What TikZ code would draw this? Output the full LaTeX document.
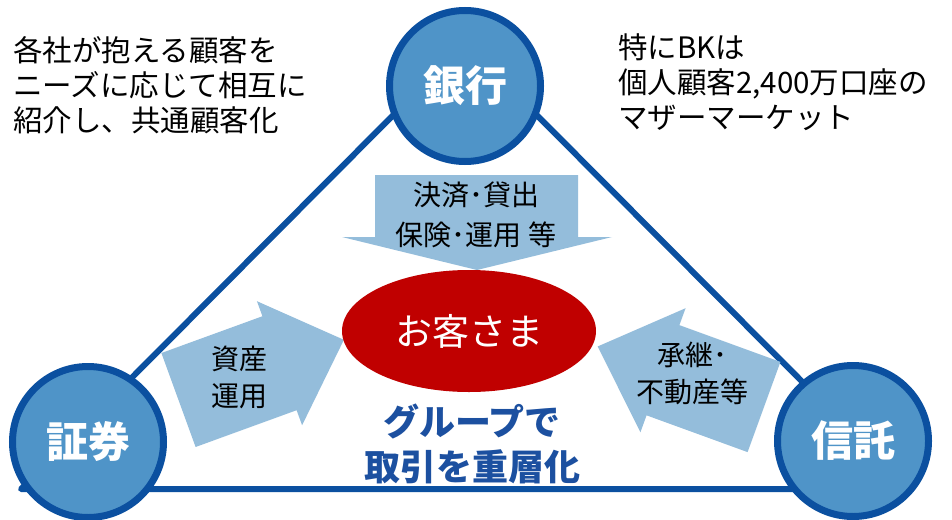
\documentclass[tikz,border=0pt]{standalone}
\usepackage{fontspec}
\newfontfamily\jp{Noto Sans CJK JP}
\usetikzlibrary{shapes.geometric}
\definecolor{ringfill}{RGB}{79,148,200}
\definecolor{ringline}{RGB}{11,80,160}
\definecolor{arrowfill}{RGB}{148,189,219}
\definecolor{custred}{RGB}{192,0,0}
\definecolor{txtblue}{RGB}{28,80,160}
\begin{document}
\begin{tikzpicture}[x=1pt,y=-1pt,
  company/.style={circle, draw=ringline, line width=7pt, fill=ringfill,
    minimum size=151pt, inner sep=0pt, text=white,
    font=\jp\bfseries\fontsize{42}{42}\selectfont},
  linkline/.style={draw=ringline, line width=6pt, line join=round},
  bigarrow/.style={fill=arrowfill},
  arrowtext/.style={align=center, inner sep=0pt, text=black,
    font=\jp\fontsize{28}{38}\selectfont},
  notetext/.style={align=left, inner sep=0pt, anchor=west, text=black,
    font=\jp\fontsize{29.5}{35}\selectfont}]
\useasboundingbox[fill=white] (0,0) rectangle (952,519);

% triangle of links
\coordinate (apex) at (465,43);
\coordinate (vl) at (21,489);
\coordinate (vr) at (909,489);
\draw[linkline] (apex) -- (vl) -- (vr) -- cycle;

% arrows
\fill[bigarrow] (375,175) -- (578,175) -- (578,237) -- (612,237) -- (477,270)
  -- (342,237) -- (375,237) -- cycle;
\begin{scope}[shift={(178.5,400)}, rotate=20]
  \fill[bigarrow] (0,-50) -- (107.5,-50) -- (107.5,-66) -- (176,0)
    -- (107.5,66) -- (107.5,50) -- (0,50) -- cycle;
\end{scope}
\begin{scope}[shift={(764,407)}, rotate=160]
  \fill[bigarrow] (0,-48) -- (107.5,-48) -- (107.5,-66) -- (177,0)
    -- (107.5,66) -- (107.5,48) -- (0,48) -- cycle;
\end{scope}

% customer
\node[ellipse, fill=custred, minimum width=254pt, minimum height=122pt,
  inner sep=0pt, text=white, font=\jp\fontsize{37}{37}\selectfont]
  (cust) at (469,331) {お客さま};

% companies
\node[company] (bank) at (465,86) {銀行};
\node[company] (sec) at (88,442) {証券};
\node[company] (trust) at (853,441) {信託};

% arrow labels
\node[arrowtext, font=\jp\fontsize{28}{40}\selectfont] (t1) at (476,215) {決済･貸出\\保険･運用 等};
\node[arrowtext, font=\jp\fontsize{28}{37}\selectfont] (t2) at (239,377) {資産\\運用};
\node[arrowtext, font=\jp\fontsize{28}{37}\selectfont] (t3) at (692,373) {承継･\\不動産等};

% group text
\node[align=center, inner sep=0pt, text=txtblue,
  font=\jp\bfseries\fontsize{36}{45}\selectfont] (grp) at (472,444)
  {グループで\\取引を重層化};

% notes
\node[notetext] (noteL) at (13,85) {各社が抱える顧客を\\ニーズに応じて相互に\\紹介し、共通顧客化};
\node[notetext] (noteR) at (618,82) {特にBKは\\個人顧客2,400万口座の\\マザーマーケット};
\end{tikzpicture}
\end{document}
